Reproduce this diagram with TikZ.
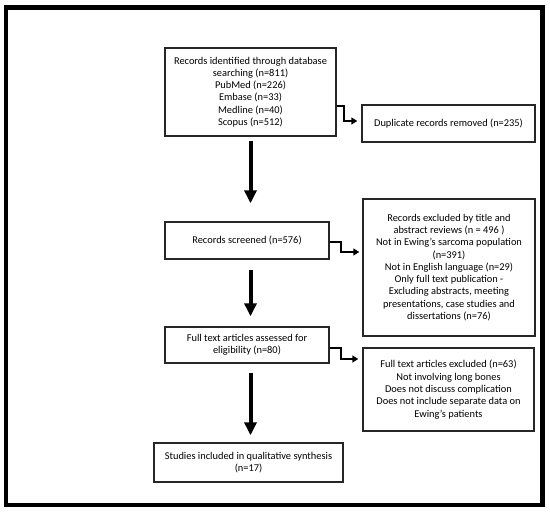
\documentclass[tikz,border=0pt]{standalone}
\usepackage{fontspec}
\setmainfont{Carlito}
\usetikzlibrary{arrows.meta,calc}
\begin{document}
\begin{tikzpicture}[x=1pt,y=-1pt,
  box/.style={draw=black!85,line width=1.4pt,inner sep=0pt,align=center,
    font=\fontsize{10.4}{12.3}\selectfont},
  downarrow/.style={line width=4pt,-{Triangle[width=12pt,length=13pt]}},
  elbow/.style={line width=2.2pt,-{Triangle[width=7pt,length=6pt]}}]
\useasboundingbox (0,0) rectangle (550,513);
\draw[line width=4.5pt] (6,7.5) rectangle (542.5,505);
\node[box,minimum width=171pt,minimum height=88pt] (ident) at (250.5,92)
  {Records identified through database\\searching (n=811)\\PubMed (n=226)\\Embase (n=33)\\Medline (n=40)\\Scopus (n=512)};
\node[box,minimum width=173pt,minimum height=37pt] (dup) at (448.5,123.5)
  {Duplicate records removed (n=235)};
\node[box,minimum width=164pt,minimum height=37pt] (scr) at (247,240.5)
  {Records screened (n=576)};
\node[box,minimum width=172pt,minimum height=137pt] (excla) at (449,267.5)
  {Records excluded by title and\\abstract reviews (n = 496 )\\Not in Ewing’s sarcoma population\\(n=391)\\Not in English language (n=29)\\Only full text publication -\\Excluding abstracts, meeting\\presentations, case studies and\\dissertations (n=76)};
\node[box,minimum width=164pt,minimum height=36pt] (full) at (247,345)
  {Full text articles assessed for\\eligibility (n=80)};
\node[box,minimum width=171pt,minimum height=83pt] (exclb) at (448.5,389.5)
  {Full text articles excluded (n=63)\\Not involving long bones\\Does not discuss complication\\Does not include separate data on\\Ewing’s patients};
\node[box,minimum width=189pt,minimum height=39pt] (stud) at (248.5,462.5)
  {Studies included in qualitative synthesis\\(n=17)};
% vertical arrows
\draw[downarrow,shorten <=4pt,shorten >=18pt] (ident.south) -- (ident.south |- scr.north);
\draw[downarrow,shorten <=10pt,shorten >=10pt] (ident.south |- scr.south) -- (ident.south |- full.north);
\draw[downarrow,shorten <=9pt,shorten >=7pt] (ident.south |- full.south) -- (ident.south |- stud.north);
% elbow arrows
\draw[elbow] ($(ident.east)+(0,14)$) -- ++(7,0) |- ($(dup.west)+(-4,-2.5)$);
\draw[elbow] ($(scr.east)+(0,1.5)$) -- ++(11,0) |- ($(excla.west)+(-3,-15.5)$);
\draw[elbow] ($(full.east)+(0,3)$) -- ++(11,0) |- ($(exclb.west)+(-4,-30.5)$);
\end{tikzpicture}
\end{document}
